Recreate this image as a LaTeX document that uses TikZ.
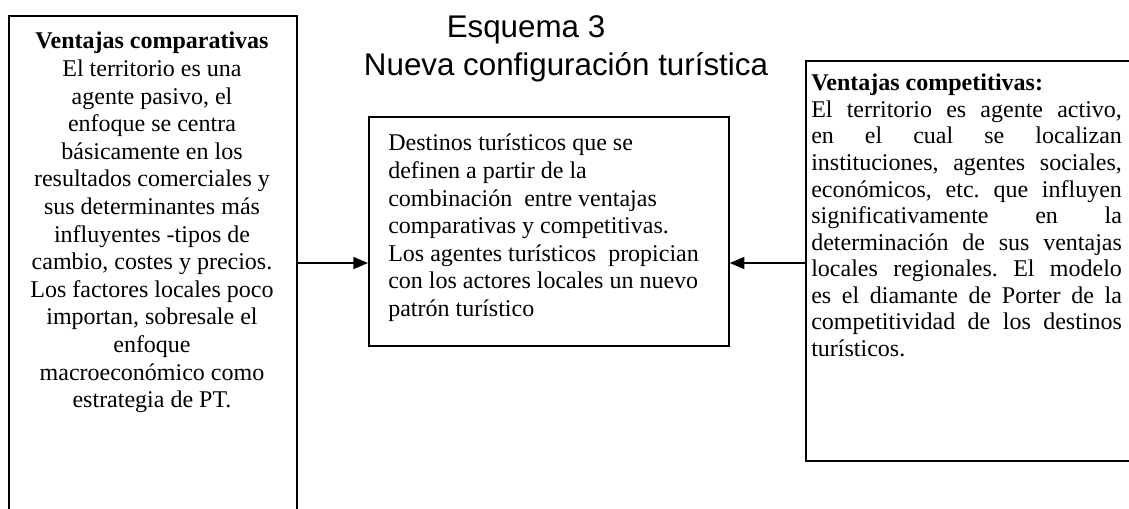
\documentclass[tikz,border=0pt]{standalone}
\usepackage{fontspec}
\setmainfont{Liberation Serif}
\newfontfamily\titlefont{Liberation Sans}
\usetikzlibrary{arrows.meta}
\frenchspacing
\newcommand{\jline}[1]{\makebox[233pt][s]{#1}}
\begin{document}
\begin{tikzpicture}[x=0.75pt,y=-0.75pt,
  box/.style={draw, line width=1.3pt, inner sep=0pt, anchor=north west},
  body/.style={inner sep=0pt, font=\fontsize{18pt}{20.7pt}\selectfont},
  bodyr/.style={inner sep=0pt, font=\fontsize{18pt}{19.9pt}\selectfont},
  ttl/.style={inner sep=0pt, font=\titlefont\fontsize{23.5pt}{28pt}\selectfont, anchor=base},
  arr/.style={line width=1.3pt, -{Triangle[length=11pt,width=9pt]}}]
\useasboundingbox (0,0) rectangle (1129,508);
\clip (0,0) rectangle (1129,508);
% boxes
\node[box, minimum width=216pt, minimum height=390pt] (lbox) at (8,15) {};
\node[box, minimum width=270pt, minimum height=171.75pt] (mbox) at (368,116) {};
\node[box, minimum width=260pt, minimum height=300pt] (rbox) at (805,60) {};
% titles
\node[ttl] (t1) at (526,37) {Esquema 3};
\node[ttl] (t2) at (566,75) {Nueva configuración turística};
% left text
\node[body, anchor=north, align=center] (ltext) at (152,32) {\textbf{Ventajas comparativas}\\
El territorio es una\\
agente pasivo, el\\
enfoque se centra\\
básicamente en los\\
resultados comerciales y\\
sus determinantes más\\
influyentes -tipos de\\
cambio, costes y precios.\\
Los factores locales poco\\
importan, sobresale el\\
enfoque\\
macroeconómico como\\
estrategia de PT.};
% middle text
\node[body, anchor=north west, align=left] (mtext) at (388,134) {Destinos turísticos que se\\
definen a partir de la\\
combinación\ \ entre ventajas\\
comparativas y competitivas.\\
Los agentes turísticos\ \ propician\\
con los actores locales un nuevo\\
patrón turístico};
% right text
\node[bodyr, anchor=north west, align=left] (rtext) at (811,74) {\textbf{Ventajas competitivas:}\\
\jline{El territorio es agente activo,}\\
\jline{en el cual se localizan}\\
\jline{instituciones, agentes sociales,}\\
\jline{económicos, etc. que influyen}\\
\jline{significativamente en la}\\
\jline{determinación de sus ventajas}\\
\jline{locales regionales. El modelo}\\
\jline{es el diamante de Porter de la}\\
\jline{competitividad de los destinos}\\
turísticos.};
% arrows
\coordinate (ay) at (0,263);
\draw[arr] (lbox.east |- ay) -- (mbox.west |- ay);
\draw[arr] (rbox.west |- ay) -- (mbox.east |- ay);
\end{tikzpicture}
\end{document}
